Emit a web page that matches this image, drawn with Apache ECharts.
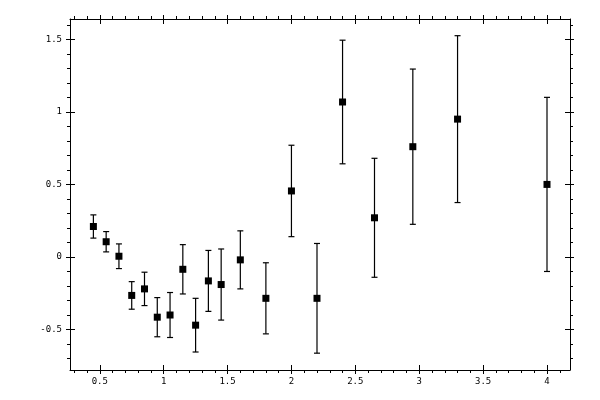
<!DOCTYPE html>
<html>
<head>
<meta charset="utf-8">
<script src="https://cdn.jsdelivr.net/npm/echarts@6/dist/echarts.min.js"></script>
<style>
  html, body { margin: 0; padding: 0; background: #fff; }
  #chart { width: 600px; height: 400px; }
</style>
</head>
<body>
<div id="chart"></div>
<script>
// data
var xVals = [0.45, 0.55, 0.65, 0.75, 0.85, 0.95, 1.05, 1.15, 1.25, 1.35, 1.45, 1.6, 1.8, 2.0, 2.2, 2.4, 2.65, 2.95, 3.3, 4.0];
var yVals = [0.21, 0.105, 0.005, -0.265, -0.22, -0.415, -0.40, -0.085, -0.47, -0.165, -0.19, -0.02, -0.285, 0.455, -0.285, 1.068, 0.27, 0.76, 0.95, 0.5];
var yErr  = [0.08, 0.07, 0.085, 0.095, 0.115, 0.135, 0.155, 0.17, 0.185, 0.21, 0.245, 0.2, 0.245, 0.315, 0.378, 0.426, 0.41, 0.535, 0.575, 0.6];

// tick labels
var xMajor = [0.5, 1, 1.5, 2, 2.5, 3, 3.5, 4];
var yMajor = [-0.5, 0, 0.5, 1, 1.5];

var X_MIN = 0.267, X_MAX = 4.18;
var Y_MIN = -0.779, Y_MAX = 1.64;

// minor ticks every 0.1
function minorTicks(from, to, major) {
    var out = [];
    for (var i = Math.round(from * 10); i <= Math.round(to * 10); i++) {
        var v = i / 10;
        if (major.indexOf(v) < 0) out.push(v);
    }
    return out;
}
var xMinor = minorTicks(0.3, 4.1, xMajor);
var yMinor = minorTicks(-0.7, 1.6, yMajor);

var labelFont = { color: '#000', fontFamily: 'DejaVu Sans Mono', fontSize: 9 };

function axis(kind, pos, ticks, len, inside, withLabels, withLine) {
    var isX = kind === 'x';
    return {
        type: 'value',
        position: pos,
        min: isX ? X_MIN : Y_MIN,
        max: isX ? X_MAX : Y_MAX,
        axisLine: { show: withLine, onZero: false, lineStyle: { color: '#000', width: 1 } },
        axisTick: { show: true, customValues: ticks, length: len, inside: inside,
                    lineStyle: { color: '#000', width: 1 } },
        axisLabel: withLabels ? Object.assign({
            show: true,
            customValues: isX ? xMajor : yMajor,
            margin: isX ? 7 : 8,
            formatter: function (v) { return String(v); }
        }, labelFont) : { show: false },
        splitLine: { show: false }
    };
}

var errData = xVals.map(function (x, i) {
    return [x, yVals[i] - yErr[i], yVals[i] + yErr[i]];
});
var ptData = xVals.map(function (x, i) { return [x, yVals[i]]; });

var chart = echarts.init(document.getElementById('chart'));
var option = {
    animation: false,
    backgroundColor: '#fff',
    grid: { left: 70, right: 30, top: 19, bottom: 30 },
    xAxis: [
        axis('x', 'bottom', xMajor, 4, false, true, true),
        axis('x', 'bottom', xMajor, 5, true, false, false),
        axis('x', 'bottom', xMinor, 3, false, false, false),
        axis('x', 'top', xMajor, 4, false, false, true),
        axis('x', 'top', xMajor, 5, true, false, false),
        axis('x', 'top', xMinor, 3, false, false, false)
    ],
    yAxis: [
        axis('y', 'left', yMajor, 4, false, true, true),
        axis('y', 'left', yMajor, 5, true, false, false),
        axis('y', 'left', yMinor, 3, false, false, false),
        axis('y', 'right', yMajor, 4, false, false, true),
        axis('y', 'right', yMajor, 5, true, false, false),
        axis('y', 'right', yMinor, 3, false, false, false)
    ],
    series: [
        {
            type: 'custom',
            xAxisIndex: 0,
            yAxisIndex: 0,
            data: errData,
            renderItem: function (params, api) {
                var x = api.value(0);
                var top = api.coord([x, api.value(2)]);
                var bot = api.coord([x, api.value(1)]);
                var cap = 3;
                var style = { stroke: '#000', lineWidth: 1.2 };
                return {
                    type: 'group',
                    children: [
                        { type: 'line', shape: { x1: top[0], y1: top[1], x2: bot[0], y2: bot[1] }, style: style },
                        { type: 'line', shape: { x1: top[0] - cap, y1: top[1], x2: top[0] + cap, y2: top[1] }, style: style },
                        { type: 'line', shape: { x1: bot[0] - cap, y1: bot[1], x2: bot[0] + cap, y2: bot[1] }, style: style }
                    ]
                };
            }
        },
        {
            type: 'scatter',
            xAxisIndex: 0,
            yAxisIndex: 0,
            symbol: 'rect',
            symbolSize: 7,
            itemStyle: { color: '#000', opacity: 1 },
            data: ptData,
            z: 5
        }
    ]
};
chart.setOption(option);
</script>
</body>
</html>
